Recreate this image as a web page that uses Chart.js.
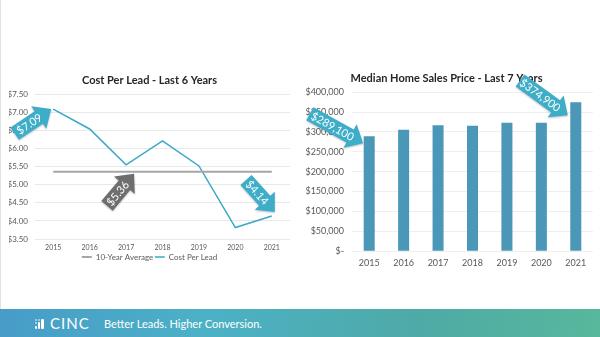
<!DOCTYPE html>
<html>
<head>
<meta charset="utf-8">
<script src="https://cdn.jsdelivr.net/npm/chart.js@4.4.0/dist/chart.umd.min.js"></script>
<style>
  body { margin: 0; width: 600px; height: 337px; background: #fff; position: relative; overflow: hidden; font-family: Lato, sans-serif; }
  #edge { position: absolute; left: 0; top: 0; width: 1px; height: 309px; background: #e2e2e2; }
  .box { position: absolute; top: 0; width: 300px; height: 300px; }
  #footer { position: absolute; left: 0; top: 309px; width: 600px; height: 28px;
    background: linear-gradient(95deg, #479cc8 0%, #4cb1c6 35%, #4eaaa6 70%, #57b89c 100%); }
  #icon span { position: absolute; background: #fff; border-radius: 1px; }
  #cinc { position: absolute; left: 50px; top: 5px; color: #fff; font-size: 15px; letter-spacing: 1px; line-height: 18px; }
  #tag { position: absolute; left: 104px; top: 8px; color: #fff; font-size: 11px; line-height: 13px; }
</style>
</head>
<body>
<div id="edge"></div>
<div class="box" style="left:0"><canvas id="costChart" width="300" height="300"></canvas></div>
<div class="box" style="left:300px"><canvas id="priceChart" width="300" height="300"></canvas></div>
<div id="footer">
  <div id="icon">
    <span style="left:35px;top:10px;width:2px;height:2px;opacity:.6"></span>
    <span style="left:35px;top:13px;width:2px;height:2px;opacity:.6"></span>
    <span style="left:35px;top:17px;width:2px;height:3px"></span>
    <span style="left:38px;top:10px;width:2px;height:2px;opacity:.6"></span>
    <span style="left:38px;top:13px;width:2px;height:7px"></span>
    <span style="left:41px;top:10px;width:3px;height:10px"></span>
  </div>
  <div id="cinc">CINC</div>
  <div id="tag">Better Leads. Higher Conversion.</div>
</div>
<script>
// data
const years = ['2015', '2016', '2017', '2018', '2019', '2020', '2021'];
const costPerLead = [7.09, 6.54, 5.55, 6.21, 5.52, 3.82, 4.14];
const tenYearAverage = [5.36, 5.36, 5.36, 5.36, 5.36, 5.36, 5.36];
const medianPrice = [289100, 305400, 317000, 315500, 323000, 323000, 374900];

const textGray = '#595959';
const teal = '#3eadc8';

// arrows with the value written inside, pinned to a data point
const callouts = {
  id: 'callouts',
  afterDraw(chart, args, opts) {
    const ctx = chart.ctx;
    (opts.items || []).forEach(a => {
      const el = chart.getDatasetMeta(a.dataset).data[a.index];
      const ang = a.angle * Math.PI / 180;
      const len = a.len, bw = 15, hw = 27, hl = 15;
      ctx.save();
      ctx.translate(el.x + a.dx, el.y + a.dy);
      ctx.rotate(ang);
      ctx.shadowColor = 'rgba(0,0,0,0.25)';
      ctx.shadowBlur = 2;
      ctx.shadowOffsetY = 1;
      ctx.fillStyle = a.color;
      ctx.beginPath();
      ctx.moveTo(0, 0);
      ctx.lineTo(-hl, -hw / 2);
      ctx.lineTo(-hl, -bw / 2);
      ctx.lineTo(-len, -bw / 2);
      ctx.lineTo(-len, bw / 2);
      ctx.lineTo(-hl, bw / 2);
      ctx.lineTo(-hl, hw / 2);
      ctx.closePath();
      ctx.fill();
      ctx.shadowColor = 'transparent';
      ctx.fillStyle = '#fff';
      ctx.font = '11px Lato';
      ctx.textAlign = 'center';
      ctx.textBaseline = 'middle';
      ctx.fillText(a.text, -(len + hl) / 2 + 3, 0.5);
      ctx.restore();
    });
  }
};

new Chart(document.getElementById('costChart'), {
  type: 'line',
  data: {
    labels: years,
    datasets: [{
      label: '10-Year Average',
      data: tenYearAverage,
      borderColor: '#a6a6a6',
      backgroundColor: '#a6a6a6',
      borderWidth: 2,
      pointRadius: 0
    }, {
      label: 'Cost Per Lead',
      data: costPerLead,
      borderColor: '#3ba8c8',
      backgroundColor: '#3ba8c8',
      borderWidth: 1.5,
      pointRadius: 0
    }]
  },
  options: {
    responsive: false,
    animation: false,
    devicePixelRatio: 1,
    layout: { padding: { top: 74, right: 10, bottom: 29, left: 9 } },
    scales: {
      x: {
        offset: true,
        grid: { display: false, drawTicks: false },
        border: { display: false },
        ticks: { color: textGray, font: { family: 'Lato', size: 7 }, padding: 4, maxRotation: 0 },
        afterFit: s => { s.height = s.height - 4; }
      },
      y: {
        min: 3.5,
        max: 7.5,
        grid: { color: '#e9e9e9', drawTicks: false },
        border: { display: false },
        ticks: {
          stepSize: 0.5,
          color: textGray,
          font: { family: 'Lato', size: 8 },
          padding: 7,
          callback: v => '$' + v.toFixed(2)
        },
        afterFit: s => { s.width = 26; }
      }
    },
    plugins: {
      title: {
        display: true,
        text: 'Cost Per Lead - Last 6 Years',
        color: '#262626',
        font: { family: 'Lato', size: 11, weight: 'bold' },
        padding: { top: 0, bottom: 7 }
      },
      legend: {
        position: 'bottom',
        labels: {
          usePointStyle: true,
          pointStyle: 'line',
          pointStyleWidth: 10,
          boxHeight: 8,
          padding: 1.5,
          color: textGray,
          font: { family: 'Lato', size: 8 }
        }
      },
      tooltip: { enabled: false },
      callouts: {
        items: [
          { dataset: 1, index: 0, dx: -2, dy: 0, angle: -34, len: 44, text: '$7.09', color: teal },
          { dataset: 0, index: 2, dx: 8, dy: 2, angle: -50, len: 42, text: '$5.36', color: '#6e6e6e' },
          { dataset: 1, index: 6, dx: 3, dy: -4, angle: 48, len: 43, text: '$4.14', color: teal }
        ]
      }
    }
  },
  plugins: [callouts]
});

new Chart(document.getElementById('priceChart'), {
  type: 'bar',
  data: {
    labels: years,
    datasets: [{
      label: 'Median Home Sales Price',
      data: medianPrice,
      backgroundColor: '#4a97b8',
      categoryPercentage: 1,
      barPercentage: 0.32
    }]
  },
  options: {
    responsive: false,
    animation: false,
    devicePixelRatio: 1,
    layout: { padding: { top: 72, right: 7, bottom: 26, left: 0 } },
    scales: {
      x: {
        grid: { display: false, drawTicks: false },
        border: { display: false },
        ticks: { color: textGray, font: { family: 'Lato', size: 9 }, padding: 6, maxRotation: 0 }
      },
      y: {
        min: 0,
        max: 400000,
        grid: { color: '#eeeeee', drawTicks: false },
        border: { display: false },
        ticks: {
          stepSize: 50000,
          color: textGray,
          font: { family: 'Lato', size: 9 },
          padding: 8,
          callback: v => v === 0 ? '$-' : '$' + v.toLocaleString('en-US')
        },
        afterFit: s => { s.width = 52; }
      }
    },
    plugins: {
      title: {
        display: true,
        text: 'Median Home Sales Price - Last 7 Years',
        color: '#262626',
        font: { family: 'Lato', size: 11, weight: 'bold' },
        padding: { top: 0, bottom: 7 }
      },
      legend: { display: false },
      tooltip: { enabled: false },
      callouts: {
        items: [
          { dataset: 0, index: 0, dx: -6, dy: 7, angle: 29, len: 61, text: '$289,100', color: teal },
          { dataset: 0, index: 6, dx: -8, dy: 13, angle: 36, len: 59, text: '$374,900', color: teal }
        ]
      }
    }
  },
  plugins: [callouts]
});
</script>
</body>
</html>
